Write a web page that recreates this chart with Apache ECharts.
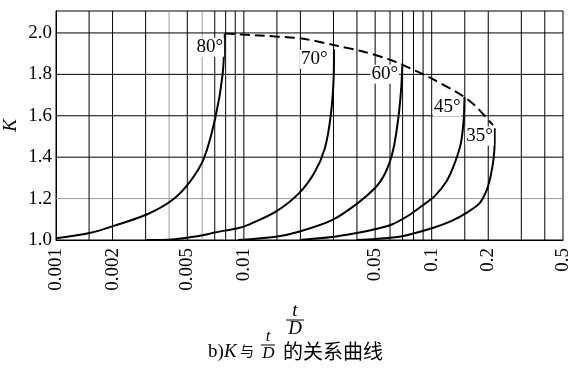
<!DOCTYPE html>
<html><head><meta charset="utf-8">
<script src="https://cdn.jsdelivr.net/npm/echarts@6/dist/echarts.min.js"></script>
<style>html,body{margin:0;padding:0;background:#fff}#c{width:569px;height:370px}</style>
</head><body><div id="c"></div>
<script>
// ---- data ----
const xTickLabels = [0.001, 0.002, 0.005, 0.01, 0.05, 0.1, 0.2, 0.5];
const yTickLabels = [1.0, 1.2, 1.4, 1.6, 1.8, 2.0];
const xGridBlack = [0.0015, 0.002, 0.003, 0.005, 0.007, 0.008, 0.009, 0.01, 0.015, 0.02, 0.03, 0.04, 0.05, 0.06, 0.07, 0.08, 0.09, 0.1, 0.15, 0.2, 0.3, 0.4];
const xGridGray = [0.004, 0.006];
const yGridBlack = [1.4, 1.6, 1.8, 2.0];
const yGridGray = [1.2];

const curve80 = [[0.001,1.008],[0.00153,1.035],[0.00203,1.068],[0.00304,1.123],[0.00416,1.193],[0.00516,1.281],[0.00613,1.394],[0.00707,1.595],[0.0077,1.796],[0.00792,1.997]];
const curve70 = [[0.00304,1.0],[0.00414,1.003],[0.00516,1.013],[0.00613,1.024],[0.00707,1.037],[0.00926,1.057],[0.01046,1.072],[0.0148,1.137],[0.01962,1.225],[0.02386,1.329],[0.02697,1.442],[0.02903,1.603],[0.0301,1.796],[0.0302,1.921]];
const curve60 = [[0.00932,1.0],[0.0148,1.016],[0.01962,1.040],[0.02949,1.096],[0.04025,1.177],[0.05037,1.255],[0.05554,1.309],[0.05979,1.376],[0.0628,1.448],[0.0651,1.531],[0.0672,1.627],[0.0690,1.748],[0.0697,1.839]];
const curve45 = [[0.01986,1.0],[0.02938,1.014],[0.03991,1.034],[0.05037,1.053],[0.06128,1.075],[0.07453,1.116],[0.08848,1.164],[0.1037,1.212],[0.1202,1.285],[0.1326,1.371],[0.1430,1.468],[0.1480,1.579],[0.1495,1.690]];
const curve35 = [[0.03991,1.0],[0.05037,1.005],[0.06841,1.017],[0.1012,1.058],[0.1278,1.092],[0.1554,1.135],[0.1800,1.178],[0.1962,1.241],[0.2060,1.309],[0.2137,1.396],[0.2163,1.473],[0.2163,1.540]];
const envelope = [[0.00792,1.997],[0.01144,1.989],[0.02027,1.973],[0.02928,1.944],[0.0440,1.908],[0.06105,1.868],[0.08455,1.812],[0.1037,1.772],[0.1439,1.700],[0.1693,1.651],[0.2119,1.555]];
const angleLabels = [[0.00659,1.931,'80°'],[0.02371,1.873,'70°'],[0.0562,1.801,'60°'],[0.1209,1.644,'45°'],[0.180,1.502,'35°']];

const FONT = 'Liberation Serif';
const Y_MIN = 1.0, Y_MAX = 2.106;
const chart = echarts.init(document.getElementById('c'), null, {renderer:'canvas'});

function fmt(v){ return String(Number(Number(v).toPrecision(3))); }
function gridSeries(vals, vertical, color){
  return vals.map(v => ({
    type:'line', z:1, silent:true, showSymbol:false, animation:false,
    data: vertical ? [[v, Y_MIN],[v, Y_MAX]] : [[0.001, v],[0.5, v]],
    lineStyle:{color:color, width:1}
  }));
}
function curve(name, data){
  return {name, type:'line', data, showSymbol:false, smooth:0.3, z:3, silent:true, animation:false,
          lineStyle:{color:'#000', width:2}};
}

chart.setOption({
  animation:false,
  backgroundColor:'#fff',
  grid:{left:56, top:11, width:507, height:229, containLabel:false, outerBoundsMode:'none',
        show:true, borderColor:'#000', borderWidth:1, backgroundColor:'transparent'},
  xAxis:{
    type:'log', logBase:10, min:0.001, max:0.5,
    axisLine:{show:true, lineStyle:{color:'#000', width:1}},
    axisTick:{show:false},
    splitLine:{show:false},
    minorSplitLine:{show:false},
    axisLabel:{customValues:xTickLabels, rotate:90, margin:8, color:'#000', fontFamily:FONT, fontSize:19, formatter:fmt}
  },
  yAxis:{
    type:'value', min:Y_MIN, max:Y_MAX, interval:0.2,
    name:'K', nameLocation:'middle', nameGap:36, nameRotate:90, nameMoveOverlap:false,
    nameTextStyle:{fontFamily:FONT, fontStyle:'italic', fontSize:19, color:'#000'},
    axisLine:{show:true, lineStyle:{color:'#000', width:1}},
    axisTick:{show:false},
    splitLine:{show:false},
    axisLabel:{customValues:yTickLabels, margin:4, color:'#000', fontFamily:FONT, fontSize:19, formatter:v => Number(v).toFixed(1)}
  },
  series:[].concat(
    gridSeries(xGridGray, true, '#9a9a9a'),
    gridSeries(yGridGray, false, '#9a9a9a'),
    gridSeries(xGridBlack, true, '#000'),
    gridSeries(yGridBlack, false, '#000'),
    [
      curve('80°', curve80),
      curve('70°', curve70),
      curve('60°', curve60),
      curve('45°', curve45),
      curve('35°', curve35),
      {name:'envelope', type:'line', data:envelope, showSymbol:false, smooth:0.25, z:3, silent:true, animation:false,
       lineStyle:{color:'#000', width:2, type:[10,5]}},
      {name:'labels', type:'scatter', z:5, silent:true, symbolSize:0, animation:false,
       itemStyle:{color:'#000', opacity:1},
       data: angleLabels.map(a => ({value:[a[0], a[1]], name:a[2]})),
       label:{show:true, position:'inside', formatter:p => p.name, color:'#000', opacity:1, fontFamily:FONT, fontSize:19,
              textBorderWidth:0, textBorderColor:'#000',
              backgroundColor:'#fff', padding:[0,1,0,1]}}
    ]
  ),
  graphic:[
    {type:'text', x:295, y:311, style:{text:'t', font:'italic 19px "Liberation Serif"', fill:'#000', align:'center', verticalAlign:'middle'}},
    {type:'line', shape:{x1:286, y1:320, x2:304, y2:320}, style:{stroke:'#000', lineWidth:1}},
    {type:'text', x:295, y:329, style:{text:'D', font:'italic 19px "Liberation Serif"', fill:'#000', align:'center', verticalAlign:'middle'}},
    {type:'text', x:208, y:352, style:{text:'b)', font:'19px "Liberation Serif"', fill:'#000', align:'left', verticalAlign:'middle'}},
    {type:'text', x:224, y:352, style:{text:'K', font:'italic 19px "Liberation Serif"', fill:'#000', align:'left', verticalAlign:'middle'}},
    {type:'text', x:240, y:351, style:{text:'与', font:'14px "Noto Sans CJK SC"', fill:'#000', align:'left', verticalAlign:'middle'}},
    {type:'text', x:268, y:337, style:{text:'t', font:'italic 17px "Liberation Serif"', fill:'#000', align:'center', verticalAlign:'middle'}},
    {type:'line', shape:{x1:261, y1:345, x2:275, y2:345}, style:{stroke:'#000', lineWidth:1}},
    {type:'text', x:268.5, y:354, style:{text:'D', font:'italic 17px "Liberation Serif"', fill:'#000', align:'center', verticalAlign:'middle'}},
    {type:'text', x:283, y:351, style:{text:'的关系曲线', font:'20px "Noto Sans CJK SC"', fill:'#000', align:'left', verticalAlign:'middle'}}
  ]
});
</script></body></html>
